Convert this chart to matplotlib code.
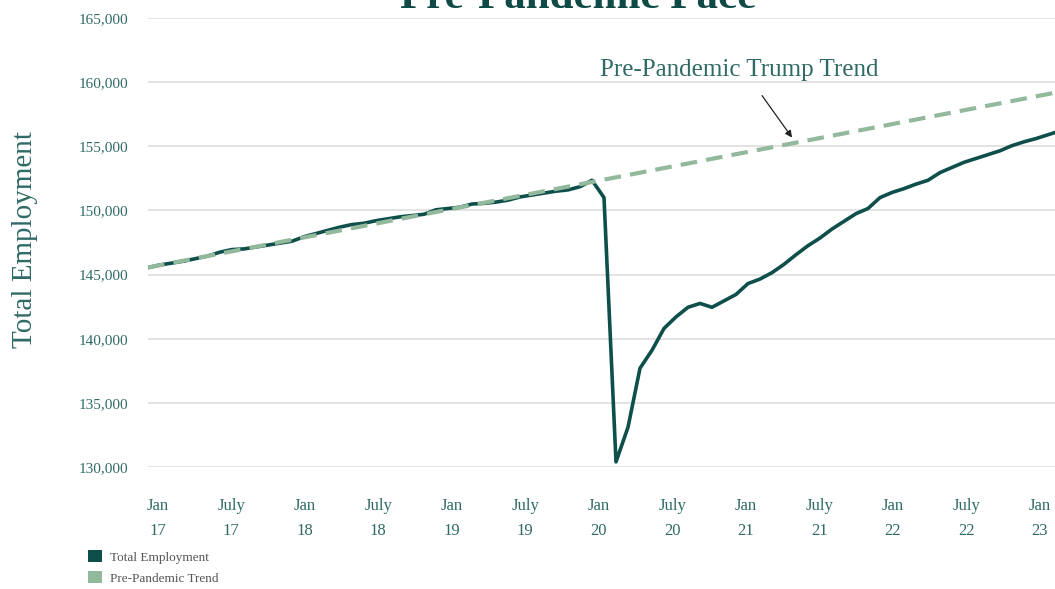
import matplotlib
matplotlib.use("Agg")
import numpy as np
import matplotlib.pyplot as plt
from matplotlib.patches import Patch

# Monthly nonfarm payroll employment (thousands), Jan 2017 onward
employment_2017 = [145550, 145750, 145900, 146050, 146250, 146450, 146750, 146950, 147000, 147150, 147300, 147450]
employment_2018 = [147600, 147950, 148200, 148450, 148700, 148900, 149000, 149200, 149350, 149500, 149600, 149700]
employment_2019 = [150050, 150150, 150250, 150500, 150550, 150650, 150800, 151050, 151200, 151350, 151500, 151600]
employment_2020 = [151850, 152350, 151000, 130400, 133100, 137700, 139100, 140800, 141700, 142450, 142750, 142450]
employment_2021 = [142950, 143450, 144300, 144650, 145150, 145800, 146550, 147250, 147850, 148550, 149150, 149750]
employment_2022 = [150150, 151000, 151400, 151700, 152050, 152350, 152950, 153350, 153750, 154050, 154350, 154650]
employment_2023 = [155050, 155350, 155600, 155900, 156200]

# Pre-pandemic linear trend, given by its two end points (month index, value)
trend_months = [0, 77]
trend_values = [145550, 159430]

tick_labels = ["Jan\n17", "July\n17", "Jan\n18", "July\n18", "Jan\n19", "July\n19", "Jan\n20",
               "July\n20", "Jan\n21", "July\n21", "Jan\n22", "July\n22", "Jan\n23"]
y_ticks = [130000, 135000, 140000, 145000, 150000, 155000, 160000, 165000]

employment = (employment_2017 + employment_2018 + employment_2019 + employment_2020
              + employment_2021 + employment_2022 + employment_2023)
months = np.arange(len(employment))

DARK = "#0f4f4b"
LIGHT = "#93b99c"
TEXT = "#2f6a66"
SERIF = ["Liberation Serif", "DejaVu Serif"]

plt.rcParams["font.family"] = SERIF

W, H = 1055, 589
fig = plt.figure(figsize=(W / 100, H / 100), dpi=100)
ax = fig.add_axes([148 / W, (H - 467) / H, (1055 - 148) / W, (467 - 18) / H])

ax.plot(months, employment, color=DARK, linewidth=2.6, zorder=3, solid_joinstyle="round")
ax.plot(trend_months, trend_values, color=LIGHT, linewidth=3.0, linestyle=(0, (4, 2.2)), zorder=4)

ax.set_xlim(0, (1055 - 148) / 12)
ax.set_ylim(130000, 165000)

ax.set_yticks(y_ticks)
ax.set_yticklabels([f"{v:,}" for v in y_ticks])
ax.grid(True, axis="y", color="#e0e0e0", linewidth=1.3)
ax.set_axisbelow(True)

ax.set_xticks(np.linspace(0.8, 74.3, len(tick_labels)))
ax.set_xticklabels(tick_labels, linespacing=1.75)
ax.tick_params(axis="x", length=0, pad=22, labelsize=12, labelcolor=TEXT)
ax.tick_params(axis="y", length=0, pad=14, labelsize=11, labelcolor=TEXT)
for s in ax.spines.values():
    s.set_visible(False)

fig.text(25 / W, 1 - 240 / H, "Total Employment", rotation=90, ha="center", va="center",
         fontsize=21, color=TEXT)

fig.text(578 / W, 1 - 8 / H, "Pre-Pandemic Pace", ha="center", va="baseline",
         fontsize=31, fontweight="bold", color="#0f4a46")

ax.text(49.25, 160970, "Pre-Pandemic Trump Trend", ha="center", va="center",
        fontsize=18, color=TEXT)
ax.annotate("", xy=(53.67, 155680), xytext=(51.17, 158950),
            arrowprops=dict(arrowstyle="-|>", color="#222222", lw=0.9,
                            shrinkA=0, shrinkB=0, mutation_scale=10))

handles = [Patch(facecolor=DARK, edgecolor="none", label="Total Employment"),
           Patch(facecolor=LIGHT, edgecolor="none", label="Pre-Pandemic Trend")]
leg = fig.legend(handles=handles, loc="upper left", bbox_to_anchor=(88 / W, 1 - 550 / H),
                 frameon=False, fontsize=9.5, handlelength=1.05, handleheight=1.05,
                 handletextpad=0.6, labelspacing=0.55, borderpad=0, borderaxespad=0)
for t in leg.get_texts():
    t.set_color("#555555")

plt.savefig("out.png", dpi=100)
print("Saved out.png")
